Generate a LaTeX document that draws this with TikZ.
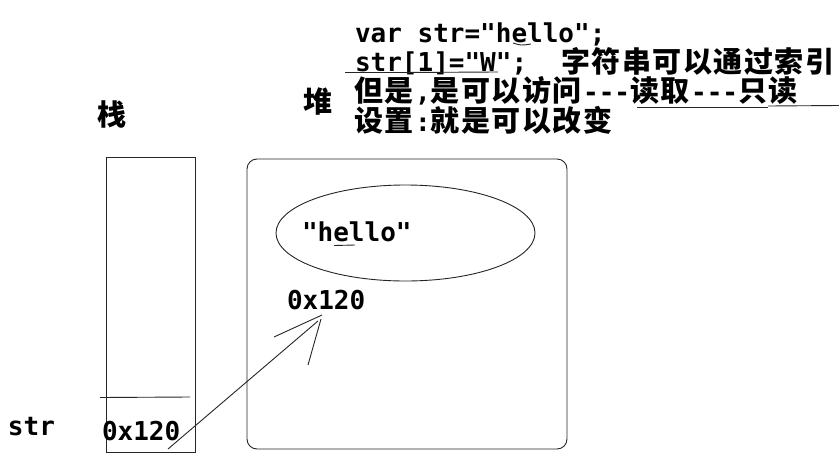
\documentclass[tikz,border=0pt]{standalone}
\usepackage{fontspec}
\usetikzlibrary{shapes.geometric}
\newfontfamily\latfont{DejaVu Sans Mono}
\newfontfamily\cjkfont[LetterSpace=5.2]{Noto Sans CJK SC}
\newcommand\LT[1]{{\latfont\bfseries\fontsize{26}{30}\selectfont #1}}
\newcommand\CJ[1]{{\cjkfont\bfseries\fontsize{29}{30}\selectfont #1}\kern1.5pt}
\begin{document}
\begin{tikzpicture}[x=1pt,y=-1pt,
  line width=0.9pt,
  every node/.style={inner sep=0pt,outer sep=0pt,text=black},
  txt/.style={anchor=base west},
  boxline/.style={draw=black!85,line width=0.9pt},
  penline/.style={draw=black!85,line width=0.9pt}]
\useasboundingbox (0,0) rectangle (839,472);
\fill[white] (0,0) rectangle (839,472);
% code lines
\node[txt] (l1) at (355,42) {\LT{var str="hello";}};
\node[txt] (l2a) at (355,71) {\LT{str[1]="W";}};
\node[txt] (l2b) at (561,72) {\CJ{字符串可以通过索引}};
\node[txt] (l3) at (354,101) {\CJ{但是}\LT{,}\CJ{是可以访问}\LT{-\kern0pt-\kern0pt-}\CJ{读取}\LT{-\kern0pt-\kern0pt-}\CJ{只读}};
\node[txt] (l4) at (354,131) {\CJ{设置}\LT{:}\CJ{就是可以改变}};
% underlines
\draw[penline] (513,43) .. controls (521,45.5) .. (531,44);
\draw[penline] (345,72.5) -- (398,72.5) -- (498,72);
\draw[penline] (637,107.5) -- (768,107.5);
\draw[penline] (768,106) -- (839,105.5);
% titles
\node[txt] (zhan) at (97,125) {\CJ{栈}};
\node[txt] (dui) at (303,112) {\CJ{堆}};
% stack
\node[boxline,minimum width=89pt,minimum height=295pt] (stack) at (150.5,304.5) {};
\coordinate (dl) at (100,397.5);
\coordinate (dr) at (190,397);
\draw[penline] (dl) -- (dr);
\node[txt] (str) at (8,435) {\LT{str}};
\node[txt] (addr1) at (102,440) {\LT{0x120}};
% heap
\node[boxline,rounded corners=10pt,minimum width=320pt,minimum height=290pt] (heap) at (407,304) {};
\node[boxline,ellipse,minimum width=259pt,minimum height=96pt] (obj) at (405.5,233) {};
\node[txt] (hello) at (302,241) {\LT{"hello"}};
\draw[penline] (334,245.5) -- (355,245);
\node[txt] (addr2) at (287,309) {\LT{0x120}};
% arrow
\coordinate (a0) at (168,449);
\coordinate (a1) at (318,321);
\coordinate (tip) at (322,315);
\coordinate (h1) at (274,337);
\coordinate (h2) at (308,365);
\coordinate (h2e) at (321,319);
\draw[penline] (a0) -- (a1);
\draw[penline] (h1) -- (tip);
\draw[penline] (h2) -- (h2e);
\end{tikzpicture}
\end{document}
